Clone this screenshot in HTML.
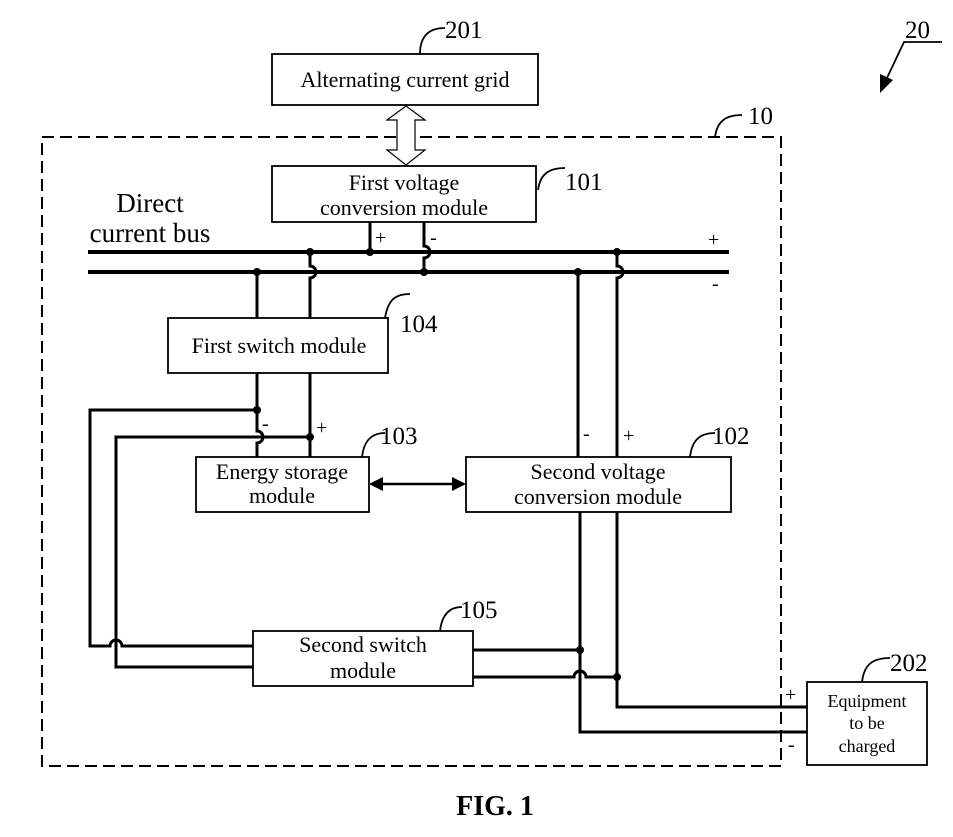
<!DOCTYPE html>
<html><head><meta charset="utf-8"><style>
html,body{margin:0;padding:0;background:#fff;}
svg{display:block;}
text{font-family:"Liberation Serif",serif;fill:#000;}
</style></head><body>
<svg width="953" height="837" viewBox="0 0 953 837" xmlns="http://www.w3.org/2000/svg">
<g fill="none" stroke="#000">
<rect x="42" y="137" width="739" height="629" stroke-width="2" stroke-dasharray="12,6"/>
<g stroke-width="1.8" fill="#fff">
<rect x="272" y="54" width="266" height="51"/>
<rect x="272" y="166" width="264" height="56"/>
<rect x="168" y="318" width="220" height="55"/>
<rect x="196" y="457" width="173" height="55"/>
<rect x="466" y="457" width="265" height="55"/>
<rect x="253" y="631" width="220" height="55"/>
<rect x="807" y="682" width="120" height="83"/>
</g>
<path d="M397,120 L397,150 L387,150 L406,165 L425,150 L415,150 L415,120 L425,120 L406,106 L387,120 Z" stroke-width="1.2" fill="#fff"/>
<line x1="88" y1="252" x2="729" y2="252" stroke-width="4"/>
<line x1="88" y1="272" x2="729" y2="272" stroke-width="4"/>
<g stroke-width="3">
<line x1="370" y1="222" x2="370" y2="252"/>
<path d="M424,222 V246 a6,6 0 0 1 0,12 V272"/>
<line x1="257" y1="272" x2="257" y2="318"/>
<path d="M310,252 V266 a6,6 0 0 1 0,12 V318"/>
<path d="M257,373 V431 a6,6 0 0 1 0,12 V457"/>
<line x1="310" y1="373" x2="310" y2="457"/>
<path d="M257,410 H90 V646 H110 a6,6 0 0 1 12,0 H253"/>
<path d="M310,437 H116 V667 H253"/>
<line x1="578" y1="272" x2="578" y2="457"/>
<path d="M617,252 V266 a6,6 0 0 1 0,12 V457"/>
<path d="M580,512 V732 H807"/>
<path d="M617,512 V707 H807"/>
<line x1="473" y1="650" x2="580" y2="650"/>
<path d="M473,677 H574 a6,6 0 0 1 12,0 H617"/>
<line x1="380" y1="484" x2="455" y2="484" stroke-width="2.5"/>
</g>
<g stroke-width="1.8">
<path d="M420,54 C420,35 430,28 445,28"/>
<path d="M538,190 C540,175 548,168 565,168"/>
<path d="M385,318 C388,300 395,294 410,294"/>
<path d="M362,457 C364,440 372,433 385,433"/>
<path d="M690,457 C692,440 700,433 715,433"/>
<path d="M440,631 C442,614 450,607 462,607"/>
<path d="M862,682 C864,665 872,658 890,658"/>
<path d="M715,137 C717,122 725,115 742,115"/>
<path d="M942,42 H904 L886,80"/>
</g>
</g>
<g fill="#000">
<polygon points="369,484 383,477 383,491"/>
<polygon points="466,484 452,477 452,491"/>
<polygon points="880,93 880,74 893,80"/>
<circle cx="370" cy="252" r="4"/><circle cx="424" cy="272" r="4"/>
<circle cx="257" cy="272" r="4"/><circle cx="310" cy="252" r="4"/>
<circle cx="257" cy="410" r="4"/><circle cx="310" cy="437" r="4"/>
<circle cx="578" cy="272" r="4"/><circle cx="617" cy="252" r="4"/>
<circle cx="580" cy="650" r="4"/><circle cx="617" cy="677" r="4"/>
</g>
<g font-size="22" text-anchor="middle">
<text x="405" y="87">Alternating current grid</text>
<text x="404" y="190">First voltage</text>
<text x="404" y="215">conversion module</text>
<text x="279" y="353">First switch module</text>
<text x="282" y="479">Energy storage</text>
<text x="282" y="503">module</text>
<text x="598" y="479">Second voltage</text>
<text x="598" y="504">conversion module</text>
<text x="363" y="652">Second switch</text>
<text x="363" y="678">module</text>
</g>
<g font-size="18" text-anchor="middle">
<text x="867" y="707">Equipment</text>
<text x="867" y="729">to be</text>
<text x="867" y="752">charged</text>
</g>
<g font-size="27" text-anchor="middle">
<text x="150" y="212">Direct</text>
<text x="150" y="242">current bus</text>
</g>
<g font-size="25">
<text x="445" y="38">201</text>
<text x="565" y="190">101</text>
<text x="400" y="332">104</text>
<text x="380" y="444">103</text>
<text x="712" y="444">102</text>
<text x="460" y="618">105</text>
<text x="890" y="671">202</text>
<text x="748" y="124">10</text>
<text x="905" y="38">20</text>
</g>
<g font-size="20">
<text x="375" y="244">+</text><text x="430" y="244">-</text>
<text x="708" y="246">+</text><text x="712" y="290">-</text>
<text x="316" y="434">+</text><text x="262" y="430">-</text>
<text x="583" y="440">-</text><text x="623" y="442">+</text>
<text x="785" y="701">+</text><text x="788" y="751">-</text>
</g>
<text x="495" y="815" font-size="28" font-weight="bold" text-anchor="middle">FIG. 1</text>
</svg>
</body></html>
